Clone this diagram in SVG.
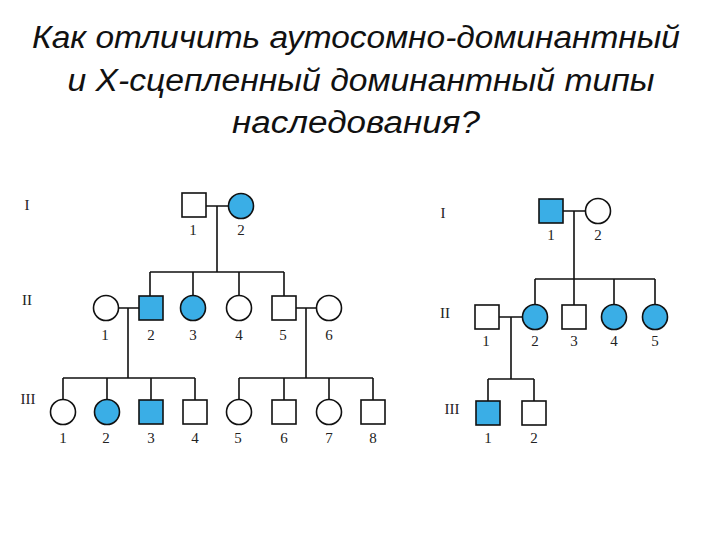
<svg xmlns="http://www.w3.org/2000/svg" width="720" height="540" viewBox="0 0 720 540">
<style>
.t{font-family:"Liberation Sans",Arial,sans-serif;font-style:italic;font-size:31px;fill:#111;text-anchor:middle}
.n{font-family:"Liberation Serif","Times New Roman",serif;font-size:15px;fill:#222;text-anchor:middle}
.s{fill:#fff;stroke:#111;stroke-width:1.6}
.a{fill:#3aaee6;stroke:#111;stroke-width:1.6}
.l{stroke:#111;stroke-width:1.6;fill:none}
</style>
<rect width="720" height="540" fill="#fff"/>
<text class="t" x="356" y="48" textLength="648" lengthAdjust="spacingAndGlyphs">Как отличить аутосомно-доминантный</text>
<text class="t" x="361" y="91" textLength="587" lengthAdjust="spacingAndGlyphs">и Х-сцепленный доминантный типы</text>
<text class="t" x="356" y="133" textLength="248" lengthAdjust="spacingAndGlyphs">наследования?</text>
<g id="connectors" class="l">
<path d="M206 206H228M217 206V272M150 272H284M150 272V296M193 272V295M239 272V295M284 272V296"/>
<path d="M119 308H139M128 308V378M296 308H316M306 308V378"/>
<path d="M63 378H195M63 378V399M107 378V399M151 378V400M195 378V400M239 378H373M239 378V399M284 378V400M329 378V399M373 378V400"/>
<path d="M563 211H585M574 211V279M535 279H655M535 279V304M574 279V305M614 279V304M655 279V304"/>
<path d="M499 317H522M511 317V379M488 379H534M488 379V401M534 379V401"/>
</g>
<g id="labels">
<text class="n" x="27" y="210">I</text><text class="n" x="27" y="305">II</text><text class="n" x="28" y="404">III</text>
<text class="n" x="443" y="218">I</text><text class="n" x="445" y="318">II</text><text class="n" x="452" y="414">III</text>
</g>
<g id="L-I-1"><rect class="s" x="182" y="193" width="24" height="24"/><text class="n" x="193" y="235">1</text></g>
<g id="L-I-2"><circle class="a" cx="241" cy="206" r="12.5"/><text class="n" x="241" y="235">2</text></g>
<g id="L-II-1"><circle class="s" cx="106" cy="308" r="12.5"/><text class="n" x="105" y="340">1</text></g>
<g id="L-II-2"><rect class="a" x="139" y="296" width="24" height="24"/><text class="n" x="151" y="340">2</text></g>
<g id="L-II-3"><circle class="a" cx="193" cy="308" r="12.5"/><text class="n" x="193" y="340">3</text></g>
<g id="L-II-4"><circle class="s" cx="239" cy="308" r="12.5"/><text class="n" x="239" y="340">4</text></g>
<g id="L-II-5"><rect class="s" x="272" y="296" width="24" height="24"/><text class="n" x="283" y="340">5</text></g>
<g id="L-II-6"><circle class="s" cx="329" cy="308" r="12.5"/><text class="n" x="329" y="340">6</text></g>
<g id="L-III-1"><circle class="s" cx="63" cy="412" r="12.5"/><text class="n" x="63" y="443">1</text></g>
<g id="L-III-2"><circle class="a" cx="107" cy="412" r="12.5"/><text class="n" x="106" y="443">2</text></g>
<g id="L-III-3"><rect class="a" x="139" y="400" width="24" height="24"/><text class="n" x="151" y="443">3</text></g>
<g id="L-III-4"><rect class="s" x="183" y="400" width="24" height="24"/><text class="n" x="195" y="443">4</text></g>
<g id="L-III-5"><circle class="s" cx="239" cy="412" r="12.5"/><text class="n" x="238" y="443">5</text></g>
<g id="L-III-6"><rect class="s" x="272" y="400" width="24" height="24"/><text class="n" x="284" y="443">6</text></g>
<g id="L-III-7"><circle class="s" cx="329" cy="412" r="12.5"/><text class="n" x="329" y="443">7</text></g>
<g id="L-III-8"><rect class="s" x="361" y="400" width="24" height="24"/><text class="n" x="373" y="443">8</text></g>
<g id="R-I-1"><rect class="a" x="539" y="199" width="24" height="24"/><text class="n" x="551" y="240">1</text></g>
<g id="R-I-2"><circle class="s" cx="598" cy="211" r="12.5"/><text class="n" x="598" y="240">2</text></g>
<g id="R-II-1"><rect class="s" x="475" y="305" width="24" height="24"/><text class="n" x="486" y="346">1</text></g>
<g id="R-II-2"><circle class="a" cx="535" cy="317" r="12.5"/><text class="n" x="535" y="346">2</text></g>
<g id="R-II-3"><rect class="s" x="562" y="305" width="24" height="24"/><text class="n" x="574" y="346">3</text></g>
<g id="R-II-4"><circle class="a" cx="614" cy="317" r="12.5"/><text class="n" x="614" y="346">4</text></g>
<g id="R-II-5"><circle class="a" cx="655" cy="317" r="12.5"/><text class="n" x="655" y="346">5</text></g>
<g id="R-III-1"><rect class="a" x="476" y="401" width="24" height="24"/><text class="n" x="488" y="443">1</text></g>
<g id="R-III-2"><rect class="s" x="522" y="401" width="24" height="24"/><text class="n" x="534" y="443">2</text></g>
</svg>
